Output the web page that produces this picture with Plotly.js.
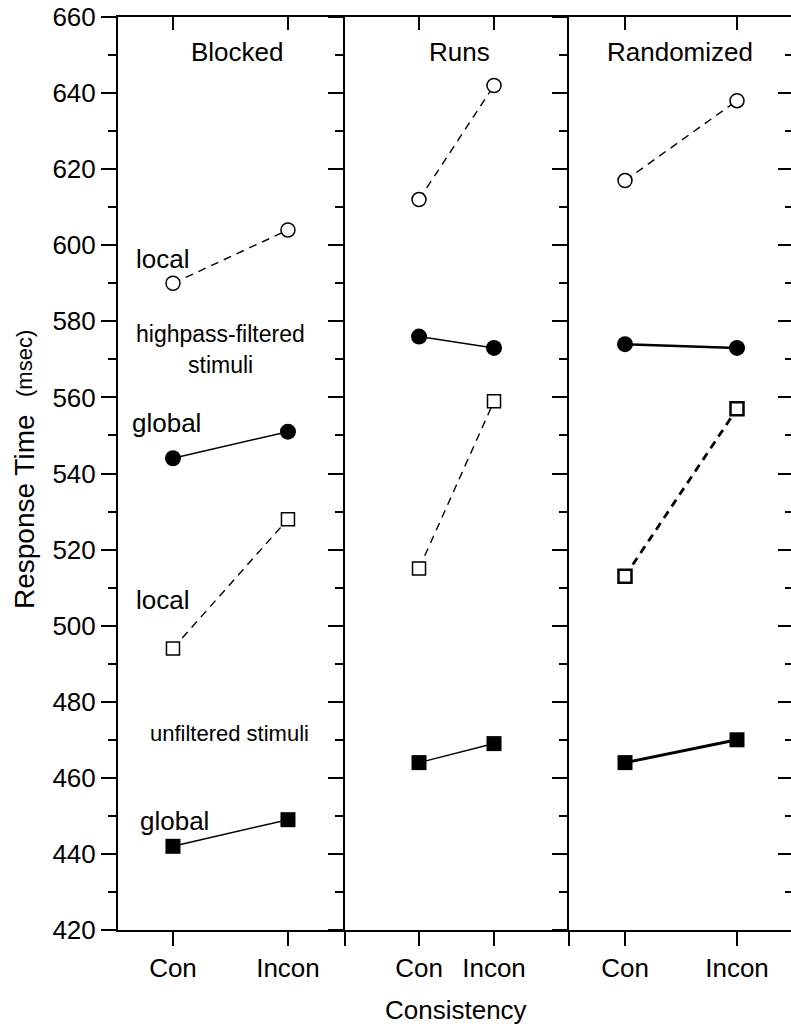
<!DOCTYPE html>
<html>
<head>
<meta charset="utf-8">
<script src="https://cdn.plot.ly/plotly-3.0.1.min.js"></script>
<style>html,body{margin:0;padding:0;background:#fff;}#chart{width:791px;height:1024px;}</style>
</head>
<body>
<div id="chart"></div>
<script>
// ---- data ----
const categories = ['Con', 'Incon'];
const panelTitles = ['Blocked', 'Runs', 'Randomized'];

const blockedLocalHigh  = [590, 604];
const blockedGlobalHigh = [544, 551];
const blockedLocalUnf   = [494, 528];
const blockedGlobalUnf  = [442, 449];

const runsLocalHigh  = [612, 642];
const runsGlobalHigh = [576, 573];
const runsLocalUnf   = [515, 559];
const runsGlobalUnf  = [464, 469];

const randLocalHigh  = [617, 638];
const randGlobalHigh = [574, 573];
const randLocalUnf   = [513, 557];
const randGlobalUnf  = [464, 470];

// ---- layout helpers ----
const W = 791, H = 1024, L = 118, R = 791, T = 17, B = 930;
const px = x => (x - L) / (R - L);
const py = y => (B - y) / (B - T);
const FONT = '"Liberation Sans", Arial, Helvetica, sans-serif';
const xIdx = categories.map((_, i) => i);

const d1 = px(345), d2 = px(569);
const ranges = [[-0.478, 1.496], [-0.987, 2.0], [-0.5, 1.482]];

function series(axis, yvals, kind, lw, msize, mlw) {
  const open = kind.startsWith('open');
  const circle = kind.endsWith('circle');
  return {
    x: xIdx, y: yvals, xaxis: axis.x, yaxis: axis.y,
    type: 'scatter', mode: 'lines+markers', showlegend: false, hoverinfo: 'skip',
    line: {color: 'black', width: lw, dash: open ? '8px,6px' : 'solid'},
    marker: {
      symbol: circle ? 'circle' : 'square',
      size: msize, color: open ? 'white' : 'black',
      line: {color: 'black', width: mlw}
    }
  };
}

const a1 = {x: 'x', y: 'y'}, a2 = {x: 'x2', y: 'y2'}, a3 = {x: 'x3', y: 'y3'};
const traces = [
  series(a1, blockedLocalHigh, 'open-circle', 1.4, 14, 1.5),
  series(a1, blockedGlobalHigh, 'filled-circle', 1.5, 16, 0),
  series(a1, blockedLocalUnf, 'open-square', 1.4, 13, 1.5),
  series(a1, blockedGlobalUnf, 'filled-square', 1.5, 15, 0),
  series(a2, runsLocalHigh, 'open-circle', 1.4, 14, 1.5),
  series(a2, runsGlobalHigh, 'filled-circle', 1.5, 16, 0),
  series(a2, runsLocalUnf, 'open-square', 1.4, 13, 1.5),
  series(a2, runsGlobalUnf, 'filled-square', 1.5, 15, 0),
  series(a3, randLocalHigh, 'open-circle', 1.4, 14, 1.5),
  series(a3, randGlobalHigh, 'filled-circle', 2.5, 16, 0),
  series(a3, randLocalUnf, 'open-square', 2.8, 13, 2.5),
  series(a3, randGlobalUnf, 'filled-square', 3, 15, 0)
];
// helper traces so the overlay axes are drawn
traces.push({x: [], y: [], xaxis: 'x4', yaxis: 'y', showlegend: false, hoverinfo: 'skip'});
traces.push({x: [], y: [], xaxis: 'x5', yaxis: 'y2', showlegend: false, hoverinfo: 'skip'});
traces.push({x: [], y: [], xaxis: 'x6', yaxis: 'y3', showlegend: false, hoverinfo: 'skip'});
traces.push({x: [], y: [], xaxis: 'x3', yaxis: 'y4', showlegend: false, hoverinfo: 'skip'});

const yRange = [420, 660];
function yAxis(extra) {
  return Object.assign({
    range: yRange, dtick: 20, tick0: 420, showgrid: false, zeroline: false,
    showline: true, linewidth: 2, linecolor: 'black',
    ticks: 'outside', ticklen: 15, tickwidth: 2, tickcolor: 'black',
    minor: {dtick: 10, ticks: 'outside', ticklen: 8, tickwidth: 2, tickcolor: 'black', showgrid: false},
    showticklabels: false, fixedrange: true
  }, extra);
}
function xAxis(i, dom, extraTicks) {
  const r = ranges[i];
  const vals = extraTicks ? [r[0]].concat(xIdx) : xIdx;
  const txt = extraTicks ? [''].concat(categories) : categories;
  return {
    domain: dom, range: r, anchor: i === 0 ? 'y' : 'y' + (i + 1),
    tickmode: 'array', tickvals: vals, ticktext: txt,
    ticks: 'outside', ticklen: 14, tickwidth: 2, tickcolor: 'black',
    showline: true, linewidth: 2, linecolor: 'black',
    showgrid: false, zeroline: false, fixedrange: true,
    tickfont: {family: FONT, size: 26, color: 'black'}, ticklabelstandoff: 0
  };
}
function topAxis(i) {
  return {
    overlaying: i === 0 ? 'x' : 'x' + (i + 1), side: 'top', anchor: 'y',
    range: ranges[i], tickmode: 'array', tickvals: xIdx, showticklabels: false,
    ticks: 'inside', ticklen: 13, tickwidth: 2, tickcolor: 'black',
    showline: true, linewidth: 2, linecolor: 'black',
    showgrid: false, zeroline: false, fixedrange: true
  };
}

const annFont = (s) => ({family: FONT, size: s, color: 'black'});
function txt(text, x, y, size) {
  return {text: text, xref: 'paper', yref: 'paper', x: px(x), y: py(y),
          xanchor: 'center', yanchor: 'middle', showarrow: false, font: annFont(size)};
}
const annotations = [
  txt(panelTitles[0], 237, 52, 26),
  txt(panelTitles[1], 459, 52, 26),
  txt(panelTitles[2], 680, 52, 26),
  txt('local', 162, 259, 26),
  txt('highpass-filtered', 220, 334, 23),
  txt('stimuli', 220, 365, 23),
  txt('global', 166, 423, 26),
  txt('local', 162, 600, 26),
  txt('unfiltered stimuli', 229, 733, 22),
  txt('global', 174, 821, 26),
  txt('Consistency', 456, 1010, 26),
  Object.assign(txt('Response Time', 24, 512, 28), {textangle: -90}),
  Object.assign(txt('(msec)', 25, 364, 22), {textangle: -90})
];

const layout = {
  width: W, height: H, margin: {l: L, r: W - R, t: T, b: H - B, pad: 0},
  paper_bgcolor: 'white', plot_bgcolor: 'white', showlegend: false,
  font: {family: FONT, color: 'black'},
  xaxis: xAxis(0, [0, d1], false),
  xaxis2: xAxis(1, [d1, d2], true),
  xaxis3: xAxis(2, [d2, 1], true),
  xaxis4: topAxis(0), xaxis5: topAxis(1), xaxis6: topAxis(2),
  yaxis: yAxis({anchor: 'x', showticklabels: true,
                tickfont: {family: FONT, size: 26, color: 'black'}, ticklabelstandoff: 0}),
  yaxis2: yAxis({anchor: 'x2', linewidth: 2.5}),
  yaxis3: yAxis({anchor: 'x3', linewidth: 2.5}),
  yaxis4: yAxis({anchor: 'x3', overlaying: 'y3', side: 'right', showline: false,
                 ticks: 'inside', ticklen: 13,
                 minor: {dtick: 10, ticks: 'inside', ticklen: 6, tickwidth: 2, tickcolor: 'black', showgrid: false}}),
  annotations: annotations
};

Plotly.newPlot('chart', traces, layout, {staticPlot: true, displayModeBar: false});
</script>
</body>
</html>
